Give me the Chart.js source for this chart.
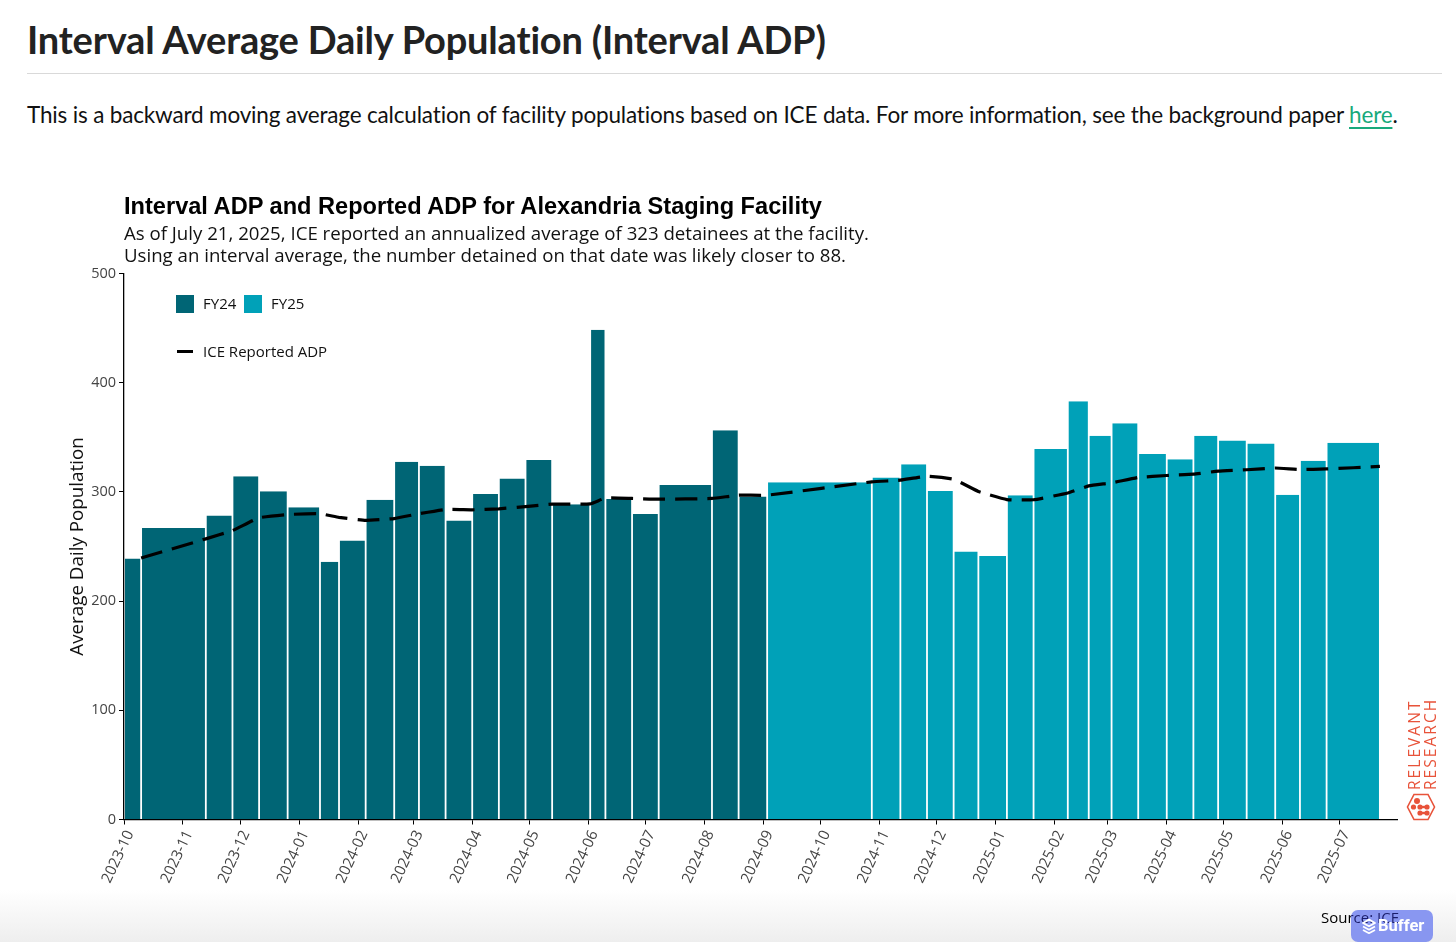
<!DOCTYPE html>
<html lang="en"><head><meta charset="utf-8">
<script src="https://cdn.jsdelivr.net/npm/chart.js@4"></script>
<style>
html,body{margin:0;padding:0;background:#fff;width:1456px;height:942px;overflow:hidden}
.a{position:absolute;white-space:nowrap}
#h{left:27px;top:15px;font:700 38px/48px Lato;letter-spacing:-.19px;color:#222}
#hr{left:27px;top:73px;width:1415px;height:1px;background:#d9d9d9}
#p{left:27px;top:99px;font:400 22.5px/32px Lato;letter-spacing:-.165px;color:#111}
#p a{color:#17a97b;text-decoration:underline;text-underline-offset:4px}
#t{left:124px;top:191px;font:700 23.6px/30px "Liberation Sans";color:#000}
.s{left:124px;font:400 18.65px/22px "Open Sans";color:#111}
.l{font:400 15px/20px "Open Sans";color:#111}
.sw{width:18px;height:18px}
#c{position:absolute;left:0;top:0}
#fade{left:0;top:890px;width:1456px;height:52px;background:linear-gradient(#fff0,#eeeeee)}
.rr{font:400 15.5px/16px "Open Sans";letter-spacing:2.05px;color:#e8533a;transform-origin:0 0;transform:rotate(-90deg)}
#src{left:1321px;top:907px;font:400 15px/20px "Open Sans";color:transparent;background:linear-gradient(90deg,#000 30px,#1a1d6a 30px);-webkit-background-clip:text;background-clip:text}
#buf{left:1351px;top:910px;width:82px;height:32px;border-radius:7px;background:rgba(118,134,240,.85)}
#buft{left:1378px;top:915px;font:700 16.5px/22px Roboto;color:#fff}
</style></head><body>
<div class="a" id="h">Interval Average Daily Population (Interval ADP)</div>
<div class="a" id="hr"></div>
<div class="a" id="p">This is a backward moving average calculation of facility populations based on ICE data. For more information, see the background paper <a href="#">here</a>.</div>
<div class="a" id="fade"></div>
<canvas id="c" width="1456" height="942"></canvas>
<div class="a" id="t">Interval ADP and Reported ADP for Alexandria Staging Facility</div>
<div class="a s" style="top:222px">As of July 21, 2025, ICE reported an annualized average of 323 detainees at the facility.</div>
<div class="a s" style="top:244px">Using an interval average, the number detained on that date was likely closer to 88.</div>
<div class="a sw" style="left:176px;top:295px;background:#006575"></div>
<div class="a l" style="left:203px;top:293px">FY24</div>
<div class="a sw" style="left:244px;top:295px;background:#00a1b8"></div>
<div class="a l" style="left:271px;top:293px">FY25</div>
<div class="a" style="left:177px;top:350px;width:16px;height:3px;background:#000"></div>
<div class="a l" style="left:203px;top:341px">ICE Reported ADP</div>
<div class="a rr" style="left:1406px;top:790px">RELEVANT</div>
<div class="a rr" style="left:1422px;top:790px">RESEARCH</div>
<svg class="a" style="left:1406px;top:792px" width="30" height="30" viewBox="0 0 30 30">
<path d="M8 2.5H22L28.5 15 22 27.5H8L1.5 15Z" fill="none" stroke="#e8533a" stroke-width="1.6"/>
<g fill="#e8533a"><circle cx="11" cy="9" r="3"/><circle cx="7.5" cy="15" r="2.6"/><circle cx="14" cy="15" r="2.6"/><circle cx="21" cy="15" r="2.6"/><circle cx="14" cy="21" r="2.6"/><circle cx="21" cy="21" r="2.6"/><rect x="14" y="13.8" width="7" height="2.4"/><rect x="14" y="19.8" width="7" height="2.4"/></g>
</svg>
<div class="a" id="buf"></div>
<div class="a" id="src">Source: ICE</div>
<svg class="a" style="left:1361px;top:918px" width="16" height="17" viewBox="0 0 16 17"><g fill="none" stroke="#fff" stroke-width="1.8" stroke-linejoin="round"><path d="M8 1.5 14 5 8 8.2 2 5Z"/><path d="M2 8.5 8 11.7 14 8.5"/><path d="M2 12 8 15.2 14 12"/></g></svg>
<div class="a" id="buft">Buffer</div>
<script>
const tickLabels = ['2023-10','2023-11','2023-12','2024-01','2024-02','2024-03','2024-04','2024-05','2024-06','2024-07','2024-08','2024-09','2024-10','2024-11','2024-12','2025-01','2025-02','2025-03','2025-04','2025-05','2025-06','2025-07'];
const yTicks = [0,100,200,300,400,500];
const fy24Starts = ['2023-10-01','2023-10-10','2023-11-13','2023-11-27','2023-12-11','2023-12-26','2024-01-12','2024-01-22','2024-02-05','2024-02-20','2024-03-04','2024-03-18','2024-04-01','2024-04-15','2024-04-29','2024-05-13','2024-06-02','2024-06-10','2024-06-24','2024-07-08','2024-08-05','2024-08-19'];
const fy25Starts = ['2024-09-03','2024-10-28','2024-11-12','2024-11-26','2024-12-10','2024-12-23','2025-01-07','2025-01-21','2025-02-08','2025-02-19','2025-03-03','2025-03-17','2025-04-01','2025-04-15','2025-04-28','2025-05-13','2025-05-28','2025-06-10','2025-06-24'];
const lastEnd = '2025-07-22';
const fy24Values = [239,267,278.3,314.3,300.5,285.9,236,255.4,292.9,327.7,324,273.7,298.1,312.2,329.3,288.7,448.5,293.5,279.8,306.4,356.4,295.7];
const fy25Values = [308.8,313.1,325.3,300.9,245.5,241.3,296.9,339.3,383,351.5,362.8,334.8,329.9,351.5,347.1,344.4,297.5,328.6,345.1];
const iceReported = [239.5,257,264.6,276.3,279.3,280,276.6,274,275.6,280,283.9,283.6,284.5,286.6,288.8,289,294.4,294,293.3,294,297,297,309.2,310.7,314.4,311.6,300.4,293,292.8,299,305.5,308.3,313.2,315,316.2,319,320.3,321.9,320.5,321,323.3];

const dayOf = s => (Date.parse(s) - Date.parse('2023-10-01')) / 864e5;
const starts = fy24Starts.concat(fy25Starts);
const ends = starts.slice(1).concat([lastEnd]);
const barRows = (vals, offset) => vals.map((v,i)=>({x:dayOf(ends[i+offset]), y:v, start:dayOf(starts[i+offset])}));

class IntervalBar extends Chart.BarController {
  _calculateBarIndexPixels(index){
    const d = this.getDataset().data[index], sc = this._cachedMeta.iScale;
    const a = sc.getPixelForValue(d.start), b = sc.getPixelForValue(d.x);
    return {base:a, head:b, center:(a+b)/2, size:b-a, ratio:1};
  }
}
IntervalBar.id = 'intervalBar';
IntervalBar.defaults = Chart.BarController.defaults;
Chart.register(IntervalBar);

const tickFont = {family:'"Open Sans"', size:14.5};
const xTickFont = {family:'"Open Sans"', size:15};
const barOpts = {borderColor:'#ffffff', borderWidth:{left:0.9,right:0.9,top:0,bottom:0}, borderSkipped:false};
new Chart(document.getElementById('c'), {
  type:'line',
  data:{datasets:[
    {type:'line', label:'ICE Reported ADP', data:iceReported.map((v,i)=>({x:dayOf(ends[i]),y:v})), borderColor:'#000', borderWidth:3.2, borderDash:[22,10], pointRadius:0, tension:0.12, fill:false, order:0},
    Object.assign({type:'intervalBar', label:'FY24', data:barRows(fy24Values,0), backgroundColor:'#006575', order:1}, barOpts),
    Object.assign({type:'intervalBar', label:'FY25', data:barRows(fy25Values,fy24Values.length), backgroundColor:'#00a1b8', order:1}, barOpts)
  ]},
  options:{
    responsive:false, animation:false, devicePixelRatio:1,
    layout:{padding:{left:0,right:59,top:273.5,bottom:0}},
    plugins:{legend:{display:false}, title:{display:false}, tooltip:{enabled:false}},
    scales:{
      x:{type:'linear', min:0, max:669, offset:false,
        afterBuildTicks:s=>{s.ticks = tickLabels.map(l=>({value:dayOf(l+'-01')}));},
        afterFit:s=>{s.height=122.5;},
        grid:{drawOnChartArea:false, drawTicks:true, tickLength:5, color:'#000', offset:false},
        border:{color:'#000', width:1.3, z:1},
        ticks:{autoSkip:false, minRotation:65, maxRotation:65, padding:3, labelOffset:6, color:'#444', font:xTickFont, callback:(v,i)=>tickLabels[i]}},
      y:{type:'linear', min:0, max:500,
        afterBuildTicks:s=>{s.ticks = yTicks.map(v=>({value:v}));},
        afterFit:s=>{s.width=124;},
        grid:{drawOnChartArea:false, tickLength:5, color:'#000'},
        border:{color:'#000', width:1.3, z:1},
        title:{display:true, text:'Average Daily Population', color:'#111', font:{family:'"Open Sans"',size:18.8}, padding:{top:66,bottom:0}},
        ticks:{padding:3, color:'#444', font:tickFont}}
    }
  }
});
</script>
</body></html>
